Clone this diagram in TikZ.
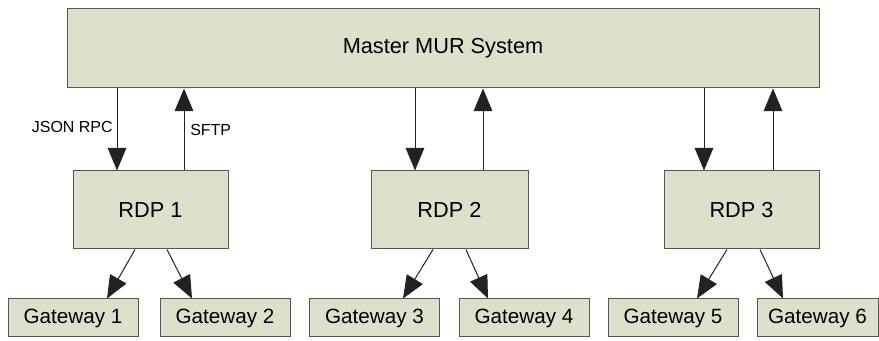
\documentclass[tikz,border=0pt]{standalone}
\usepackage{fontspec}
\setmainfont{Liberation Sans}
\usetikzlibrary{arrows.meta}
\definecolor{boxfill}{HTML}{DDE0CB}
\definecolor{boxline}{HTML}{555555}
\definecolor{arrline}{HTML}{222222}
\tikzset{
  box/.style={draw=boxline, fill=boxfill, line width=0.75pt, rectangle, inner sep=0pt, font=\fontsize{16.3}{19}\selectfont},
  gw/.style={box, minimum height=28.5pt, minimum width=97.5pt, font=\fontsize{15.5}{18}\selectfont},
  rdp/.style={box, minimum height=58.5pt, minimum width=116.25pt},
  arr/.style={draw=arrline, line width=0.75pt, -{Triangle[length=17pt,width=14pt]}},
  lbl/.style={inner sep=0pt, font=\fontsize{12}{14}\selectfont}
}
\begin{document}
\begin{tikzpicture}[x=0.75pt, y=-0.75pt]
\useasboundingbox (0,0) rectangle (879,341);
\node[box, minimum width=564pt, minimum height=59.25pt] (m) at (443,48.5) {Master MUR System};
\node[rdp] (r1) at (150.5,210) {RDP 1};
\node[rdp, minimum width=117.75pt] (r2) at (449.5,210) {RDP 2};
\node[rdp] (r3) at (741.5,210) {RDP 3};
\node[gw] (g1) at (73,318) {Gateway 1};
\node[gw] (g2) at (225,318) {Gateway 2};
\node[gw] (g3) at (374.5,318) {Gateway 3};
\node[gw] (g4) at (524,318) {Gateway 4};
\node[gw] (g5) at (673,318) {Gateway 5};
\node[gw, minimum width=90.75pt] (g6) at (817.5,318) {Gateway 6};
% master <-> RDP
\draw[arr] (m.south -| 117,0) -- (r1.north -| 117,0);
\draw[arr] (r1.north -| 184,0) -- (m.south -| 184,0);
\draw[arr] (m.south -| 415,0) -- (r2.north -| 415,0);
\draw[arr] (r2.north -| 483,0) -- (m.south -| 483,0);
\draw[arr] (m.south -| 704,0) -- (r3.north -| 704,0);
\draw[arr] (r3.north -| 773,0) -- (m.south -| 773,0);
% RDP -> gateways
\draw[arr] (r1.south -| 135,0) -- (g1.north -| 107,0);
\draw[arr] (r1.south -| 167,0) -- (g2.north -| 192,0);
\draw[arr] (r2.south -| 433,0) -- (g3.north -| 403,0);
\draw[arr] (r2.south -| 466,0) -- (g4.north -| 488,0);
\draw[arr] (r3.south -| 727,0) -- (g5.north -| 697,0);
\draw[arr] (r3.south -| 760,0) -- (g6.north -| 783,0);
% labels
\node[lbl, anchor=east] (json) at (113,127) {JSON RPC};
\node[lbl, anchor=west] (sftp) at (190,130) {SFTP};
\end{tikzpicture}
\end{document}
